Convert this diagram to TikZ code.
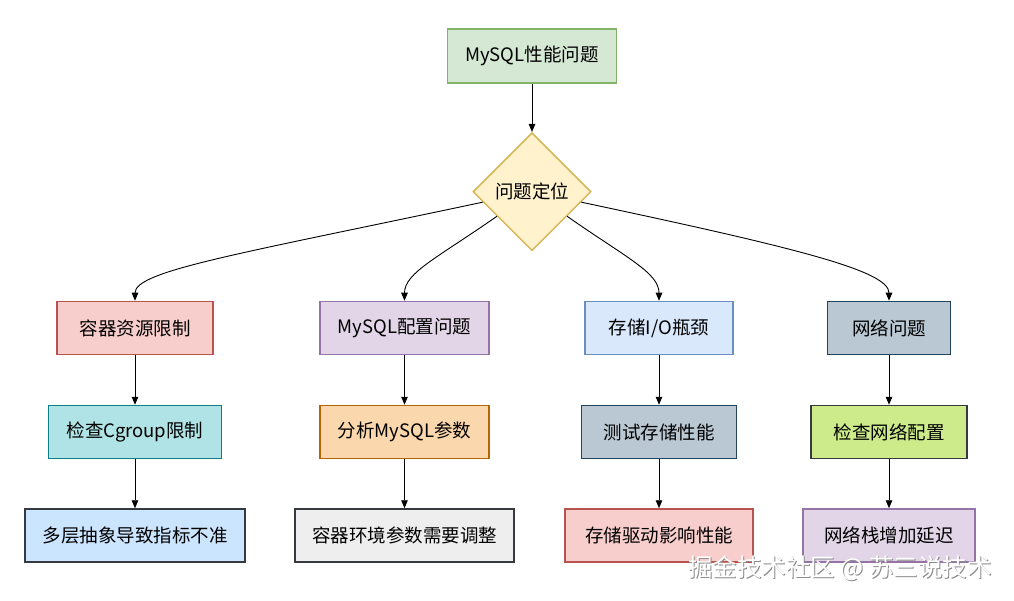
\documentclass[tikz,border=0pt]{standalone}
\usepackage{fontspec}
\setmainfont{Noto Sans CJK SC}
\usetikzlibrary{arrows.meta,shapes.geometric}
\definecolor{gF}{HTML}{D5E8D4}\definecolor{gS}{HTML}{82B366}
\definecolor{yF}{HTML}{FFF2CC}\definecolor{yS}{HTML}{D6B656}
\definecolor{rF}{HTML}{F8CECC}\definecolor{rS}{HTML}{B85450}
\definecolor{pF}{HTML}{E1D5E7}\definecolor{pS}{HTML}{9673A6}
\definecolor{bF}{HTML}{DAE8FC}\definecolor{bS}{HTML}{6C8EBF}
\definecolor{sF}{HTML}{BAC8D3}\definecolor{sS}{HTML}{23445D}
\definecolor{tF}{HTML}{B0E3E6}\definecolor{tS}{HTML}{0E8088}
\definecolor{oF}{HTML}{FAD7AC}\definecolor{oS}{HTML}{B46504}
\definecolor{lF}{HTML}{CDEB8B}\definecolor{dS}{HTML}{36393D}
\definecolor{cF}{HTML}{CCE5FF}\definecolor{eF}{HTML}{EEEEEE}
\begin{document}
\begin{tikzpicture}[x=1pt,y=1pt,
  box/.style={draw, line width=1.5pt, inner sep=0pt, minimum height=53pt,
    font=\fontsize{18.5}{22}\selectfont, text=black},
  arr/.style={-{Triangle[width=6.5pt,length=8pt]}, line width=0.9pt, black},
  wmark/.style={font=\fontsize{24.5}{28}\selectfont}]
\fill[white] (0,0) rectangle (1014,-601);
\useasboundingbox (0,0) rectangle (1014,-601);

\node[box, fill=gF, draw=gS, minimum width=169pt, minimum height=54pt] (top) at (532,-55.8) {MySQL性能问题};
\node[diamond, draw=yS, fill=yF, line width=1.5pt, inner sep=0pt, minimum width=118pt, minimum height=118pt,
  font=\fontsize{18.5}{22}\selectfont] (dia) at (532,-191.7) {问题定位};

% row 1
\node[box, fill=rF, draw=rS, minimum width=156pt] (a1) at (135,-328) {容器资源限制};
\node[box, fill=pF, draw=pS, minimum width=169pt] (a2) at (404.5,-328) {MySQL配置问题};
\node[box, fill=bF, draw=bS, minimum width=148pt] (a3) at (659,-328) {存储I/O瓶颈};
\node[box, fill=sF, draw=sS, minimum width=123pt] (a4) at (889,-328) {网络问题};
% row 2
\node[box, fill=tF, draw=tS, minimum width=173pt] (b1) at (135,-432) {检查Cgroup限制};
\node[box, fill=oF, draw=oS, minimum width=169pt] (b2) at (404.5,-432) {分析MySQL参数};
\node[box, fill=sF, draw=sS, minimum width=155pt] (b3) at (659,-432) {测试存储性能};
\node[box, fill=lF, draw=dS, minimum width=156pt] (b4) at (889,-432) {检查网络配置};
% row 3
\node[box, fill=cF, draw=dS, minimum width=220pt] (c1) at (135,-535.5) {多层抽象导致指标不准};
\node[box, fill=eF, draw=dS, minimum width=219pt] (c2) at (404.5,-535.5) {容器环境参数需要调整};
\node[box, fill=rF, draw=rS, minimum width=188pt] (c3) at (659,-535.5) {存储驱动影响性能};
\node[box, fill=pF, draw=pS, minimum width=172pt] (c4) at (889,-535.5) {网络栈增加延迟};

\draw[arr] (top) -- (dia);
\draw[arr] (dia) to[out=192, in=90, out distance=250pt, in distance=30pt] (a1.north);
\draw[arr] (dia) to[out=215, in=90, out distance=72pt, in distance=28pt] (a2.north);
\draw[arr] (dia) to[out=325, in=90, out distance=72pt, in distance=28pt] (a3.north);
\draw[arr] (dia) to[out=348, in=90, out distance=220pt, in distance=30pt] (a4.north);

\foreach \i in {1,2,3,4}{
  \draw[arr] (a\i) -- (b\i);
  \draw[arr] (b\i) -- (c\i);
}

\node[wmark, text=black!45] (wmshadow) at (841,-569.2) {掘金技术社区 @ 苏三说技术};
\node[wmark, text=white] (wm) at (840,-568) {掘金技术社区 @ 苏三说技术};
\end{tikzpicture}
\end{document}
